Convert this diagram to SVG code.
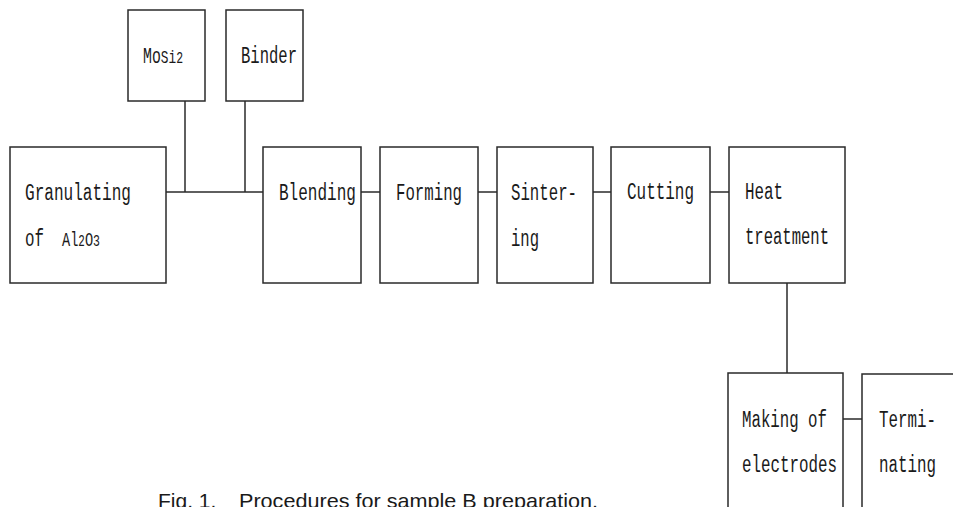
<svg xmlns="http://www.w3.org/2000/svg" width="953" height="507" viewBox="0 0 953 507">
<style>
  .box { fill: #fff; stroke: #2a2a2a; stroke-width: 1.5; }
  .ln { stroke: #2a2a2a; stroke-width: 1.5; fill: none; }
  .t { font-family: "Liberation Mono", "DejaVu Sans Mono", monospace; font-size: 23px; fill: #1a1a1a; }
  .cap { font-family: "Liberation Sans", Arial, sans-serif; font-size: 21px; fill: #1a1a1a; }
</style>
<rect width="953" height="507" fill="#fff"/>
<g id="connectors">
  <line class="ln" x1="166" y1="192" x2="263" y2="192"/>
  <line class="ln" x1="185" y1="101" x2="185" y2="192"/>
  <line class="ln" x1="245" y1="101" x2="245" y2="192"/>
  <line class="ln" x1="361" y1="192" x2="380" y2="192"/>
  <line class="ln" x1="478" y1="192" x2="497" y2="192"/>
  <line class="ln" x1="593" y1="192" x2="611" y2="192"/>
  <line class="ln" x1="710" y1="192" x2="729" y2="192"/>
  <line class="ln" x1="787" y1="283" x2="787" y2="373"/>
  <line class="ln" x1="843" y1="419" x2="862" y2="419"/>
</g>
<g id="mosi2">
  <rect class="box" x="128" y="10" width="77" height="91"/>
  <text class="t" x="143" y="63" textLength="40" lengthAdjust="spacingAndGlyphs"><tspan style="font-size:22px">Mo</tspan><tspan style="font-size:19px">Si</tspan><tspan style="font-size:17px">2</tspan></text>
</g>
<g id="binder">
  <rect class="box" x="226" y="10" width="77" height="91"/>
  <text class="t" x="241" y="63" textLength="56" lengthAdjust="spacingAndGlyphs">Binder</text>
</g>
<g id="granulating">
  <rect class="box" x="10" y="147" width="156" height="136"/>
  <text class="t" x="25" y="200" textLength="106" lengthAdjust="spacingAndGlyphs">Granulating</text>
  <text class="t" x="25" y="246" textLength="19" lengthAdjust="spacingAndGlyphs">of</text>
  <text class="t" x="62" y="246" style="font-size:20px" textLength="38" lengthAdjust="spacingAndGlyphs">Al<tspan style="font-size:16px">2</tspan>O<tspan style="font-size:17px">3</tspan></text>
</g>
<g id="blending">
  <rect class="box" x="263" y="147" width="98" height="136"/>
  <text class="t" x="279" y="200" textLength="77" lengthAdjust="spacingAndGlyphs">Blending</text>
</g>
<g id="forming">
  <rect class="box" x="380" y="147" width="98" height="136"/>
  <text class="t" x="396" y="200" textLength="66" lengthAdjust="spacingAndGlyphs">Forming</text>
</g>
<g id="sintering">
  <rect class="box" x="497" y="147" width="96" height="136"/>
  <text class="t" x="511" y="200" textLength="66" lengthAdjust="spacingAndGlyphs">Sinter-</text>
  <text class="t" x="511" y="246" textLength="28" lengthAdjust="spacingAndGlyphs">ing</text>
</g>
<g id="cutting">
  <rect class="box" x="611" y="147" width="99" height="136"/>
  <text class="t" x="627" y="199" textLength="67" lengthAdjust="spacingAndGlyphs">Cutting</text>
</g>
<g id="heat">
  <rect class="box" x="729" y="147" width="116" height="136"/>
  <text class="t" x="745" y="199" textLength="38" lengthAdjust="spacingAndGlyphs">Heat</text>
  <text class="t" x="745" y="244" textLength="84" lengthAdjust="spacingAndGlyphs">treatment</text>
</g>
<g id="making">
  <rect class="box" x="728" y="373" width="115" height="145"/>
  <text class="t" x="742" y="427" textLength="85" lengthAdjust="spacingAndGlyphs">Making of</text>
  <text class="t" x="742" y="472" textLength="95" lengthAdjust="spacingAndGlyphs">electrodes</text>
</g>
<g id="terminating">
  <rect class="box" x="862" y="374" width="110" height="145"/>
  <text class="t" x="879" y="427" textLength="57" lengthAdjust="spacingAndGlyphs">Termi-</text>
  <text class="t" x="879" y="472" textLength="57" lengthAdjust="spacingAndGlyphs">nating</text>
</g>
<g id="caption">
  <text class="cap" x="158" y="508">Fig. 1.</text>
  <text class="cap" x="239" y="508" textLength="359" lengthAdjust="spacingAndGlyphs">Procedures for sample B preparation.</text>
</g>
</svg>
